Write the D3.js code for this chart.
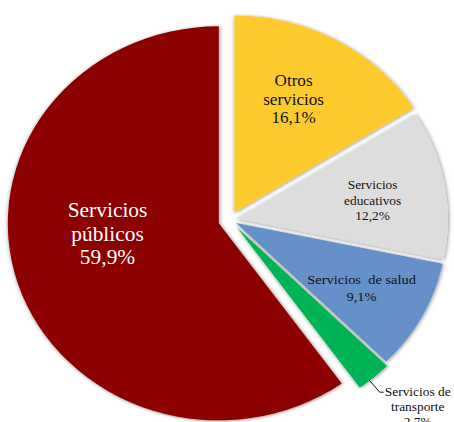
<!DOCTYPE html>
<html><head><meta charset="utf-8">
<script src="https://cdn.jsdelivr.net/npm/d3@7"></script>
<style>html,body{margin:0;padding:0;background:#fff;overflow:hidden}</style>
</head><body>
<svg id="chart" width="454" height="422"></svg>
<script>
// Data
const categories = ["Otros servicios", "Servicios educativos", "Servicios de salud", "Servicios de transporte", "Servicios públicos"];
const labelLines = [["Otros", "servicios"], ["Servicios", "educativos"], ["Servicios\u00a0\u00a0de salud"], ["Servicios de", "transporte"], ["Servicios", "públicos"]];
const values = [16.1, 12.2, 9.1, 2.7, 59.9];
const valueLabels = ["16,1%", "12,2%", "9,1%", "2,7%", "59,9%"];

// Styles
const colors = ["#FECB2F", "#DEDDDD", "#6690C9", "#00B455", "#8C0000"];
const explode = [8.5, 6.5, 6.5, 10, 11];
const labelR = [0.64, 0.65, 0.675, 0, 0.53];
const labelShift = [-3, 2, 0, 0, 12]; // degrees
const fontSizes = [16, 12.5, 13.5, 12.5, 20];
const lineGap = [18.5, 15.5, 17, 15, 23.5];
const textColors = ["#111", "#111", "#111", "#111", "#fff"];
const FONT = "\"Liberation Serif\", \"Times New Roman\", Tinos, monospace";

const W = 454, H = 422;
const cx = 230, cy = 220, R = 197, sx = 1.071;
const svg = d3.select("#chart");

const defs = svg.append("defs");
const f = defs.append("filter").attr("id", "sh").attr("x", "-20%").attr("y", "-20%").attr("width", "140%").attr("height", "140%");
f.append("feDropShadow").attr("dx", 0.5).attr("dy", 0.5).attr("stdDeviation", 1.8)
  .attr("flood-color", "#000").attr("flood-opacity", 0.5);

const pie = d3.pie().sort(null).value(d => d);
const arcs = pie(values);
const arc = d3.arc().innerRadius(0).outerRadius(R);

function pol(a, r) { return [sx * r * Math.sin(a), -r * Math.cos(a)]; }

arcs.forEach((d, i) => {
  const mid = (d.startAngle + d.endAngle) / 2;
  const off = pol(mid, explode[i]);
  d.center = [cx + off[0], cy + off[1]];
  d.mid = mid;
});

const g = svg.append("g");
g.selectAll("path").data(arcs).join("path")
  .attr("transform", d => `translate(${d.center[0]},${d.center[1]}) scale(${sx},1)`)
  .attr("d", arc)
  .attr("fill", (d, i) => colors[i])
  .attr("filter", "url(#sh)");

// Labels
arcs.forEach((d, i) => {
  const lines = labelLines[i].concat([valueLabels[i]]);
  let px, py;
  if (labelR[i] > 0) {
    const a = d.mid + labelShift[i] * Math.PI / 180;
    const p = pol(a, R * labelR[i]);
    px = d.center[0] + p[0]; py = d.center[1] + p[1];
  } else {
    // leader line for small slice
    const p0 = pol(d.mid + 1.5 * Math.PI / 180, R * 0.995);
    const p1 = pol(d.mid + 1.5 * Math.PI / 180, R * 1.075);
    const x0 = d.center[0] + p0[0], y0 = d.center[1] + p0[1];
    const x1 = d.center[0] + p1[0], y1 = d.center[1] + p1[1];
    svg.append("path").attr("d", `M${x0},${y0}L${x1},${y1}L${x1 + 4},${y1}`)
      .attr("fill", "none").attr("stroke", "#000").attr("stroke-width", 0.9);
    px = x1 + 38; py = y1 + 15;
  }
  if (i === 2) py += 2;
  const n = lines.length;
  const tg = svg.append("g").attr("transform", `translate(${px},${py}) scale(${sx},1)`);
  lines.forEach((s, k) => {
    tg.append("text")
      .attr("x", 0)
      .attr("y", (k - (n - 1) / 2) * lineGap[i] + fontSizes[i] * 0.33)
      .attr("text-anchor", "middle")
      .attr("fill", textColors[i])
      .style("font-size", fontSizes[i] + "px")
      .style("font-family", FONT)
      .text(s);
  });
});
</script>
</body></html>
